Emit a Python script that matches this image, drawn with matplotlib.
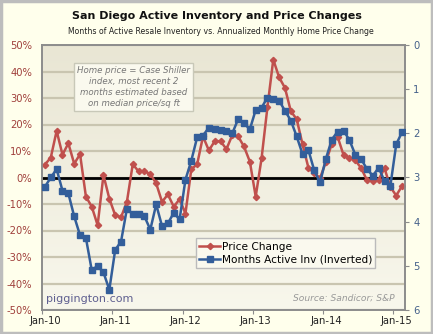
import matplotlib
matplotlib.use('Agg')
import matplotlib.pyplot as plt
import numpy as np
from matplotlib.patches import Rectangle
from matplotlib.colors import LinearSegmentedColormap

# monthly data, Jan-10 .. Feb-15
price_change = [4.9, 7.5, 17.6, 8.6, 12.9, 5.2, 8.8, -7.2, -11, -18, 0.9, -8,
                -14.2, -15, -9.2, 5, 2.3, 2.3, 1.3, -2.2, -9.2, -6.4, -11, -8.2,
                -13.6, 3.1, 5, 15.5, 10.2, 13.7, 13.7, 10.7, 16, 15.5, 11.7, 6,
                -7.2, 7.2, 26.5, 44.5, 37.8, 33.8, 25, 22, 12.5, 3.7, 1.6, -0.2,
                6, 12.7, 15.3, 8.5, 7.5, 6.5, 3.6, -1, -1.2, -0.8, 3.5, -3.6,
                -6.8, -3.2]
months_active = [3.21, 3.00, 2.81, 3.30, 3.36, 3.88, 4.31, 4.37, 5.10, 5.00, 5.15, 5.54,
                 4.64, 4.45, 3.71, 3.83, 3.83, 3.88, 4.18, 3.61, 4.10, 4.04, 3.80, 3.95,
                 3.05, 2.62, 2.09, 2.05, 1.87, 1.90, 1.92, 1.94, 2.00, 1.68, 1.77, 1.91,
                 1.47, 1.42, 1.19, 1.22, 1.26, 1.49, 1.71, 2.07, 2.47, 2.38, 2.84, 3.11,
                 2.57, 2.14, 1.96, 1.94, 2.15, 2.48, 2.58, 2.81, 2.96, 2.78, 3.08, 3.19,
                 2.25, 1.97]
tick_labels = ['Jan-10', 'Jan-11', 'Jan-12', 'Jan-13', 'Jan-14', 'Jan-15']

red = '#C0504D'
blue = '#335E9A'
x = np.arange(len(price_change))

fig = plt.figure(figsize=(4.33, 3.34), dpi=100)
fig.patch.set_facecolor('#FFFFEC')
fig.patches.append(Rectangle((0.003, 0.004), 0.994, 0.992, transform=fig.transFigure,
                             fill=False, edgecolor='#BDBDBD', lw=2.5))

ax = fig.add_axes([42 / 433, 1 - 310 / 334, 363 / 433, 265 / 334])

# plot area gradient
cmap = LinearSegmentedColormap.from_list('bg', ['#E9E6D4', '#F8F7EC'])
ax.imshow(np.linspace(0, 1, 256).reshape(-1, 1), cmap=cmap, extent=[0, 1, 0, 1],
          transform=ax.transAxes, aspect='auto', zorder=0)

ax.yaxis.grid(True, color='#C9C5B0', lw=1.6)
ax.set_axisbelow(True)
ax.axhline(0, color='black', lw=2, zorder=1)
l1, = ax.plot(x, price_change, color=red, lw=1.8, marker='D', ms=3.2, zorder=3,
              label='Price Change')

ax.set_xlim(-0.5, len(x) - 0.5)
ax.set_ylim(-50, 50)
ax.set_yticks(range(-50, 51, 10))
ax.set_yticklabels(['%d%%' % v for v in range(-50, 51, 10)])
ax.tick_params(axis='y', labelcolor='#A0403C', labelsize=7.2, length=0, pad=7)

ax.set_xticks([-0.5 + 12 * k for k in range(6)])
ax.set_xticklabels([])
ax.set_xticks([12 * k for k in range(6)], minor=True)
ax.set_xticklabels(tick_labels, minor=True)
ax.tick_params(axis='x', which='major', length=3, color='#8C8C8C')
ax.tick_params(axis='x', which='minor', length=0, labelsize=7.2, labelcolor='#222222', pad=4)

ax2 = ax.twinx()
l2, = ax2.plot(x, months_active, color=blue, lw=1.8, marker='s', ms=4, zorder=3,
               label='Months Active Inv (Inverted)')
ax2.set_ylim(6, 0)
ax2.set_yticks(range(0, 7))
ax2.tick_params(axis='y', labelcolor='#44608A', labelsize=7.2, length=3, color='#8C8C8C', pad=3)

for a in (ax, ax2):
    for s in a.spines.values():
        s.set_color('#8C8C8C')
        s.set_linewidth(1.2)

ax2.legend(handles=[l1, l2], loc='upper left', bbox_to_anchor=(0.424, 0.27),
           fontsize=7.6, frameon=True, fancybox=False, edgecolor='#BBBBBB',
           facecolor='#FAF9EE', framealpha=1, borderpad=0.3, handlelength=2.0,
           handletextpad=0.15, labelspacing=0.3, borderaxespad=0)

ax2.text(0.253, 0.842, 'Home price = Case Shiller\nindex, most recent 2\nmonths estimated based\non median price/sq ft',
         transform=ax.transAxes, ha='center', va='center', fontsize=6.2, style='italic',
         color='#777777', linespacing=1.3,
         bbox=dict(boxstyle='square,pad=0.35', facecolor='#FAF9EE', edgecolor='#C8C8B8'))

ax2.text(0.01, 0.042, 'piggington.com', transform=ax.transAxes, ha='left', va='center',
         fontsize=8, color='#5F5F90')
ax2.text(0.972, 0.045, 'Source: Sandicor; S&P', transform=ax.transAxes, ha='right',
         va='center', fontsize=6.6, style='italic', color='#999999')

fig.text(0.5, 1 - 15.7 / 334, 'San Diego Active Inventory and Price Changes',
         ha='center', va='center', fontsize=8, fontweight='bold', color='#111111')
fig.text(0.511, 1 - 31.7 / 334,
         'Months of Active Resale Inventory vs. Annualized Monthly Home Price Change',
         ha='center', va='center', fontsize=5.6, color='#222222')

fig.savefig('out.png', dpi=100, facecolor=fig.get_facecolor())
